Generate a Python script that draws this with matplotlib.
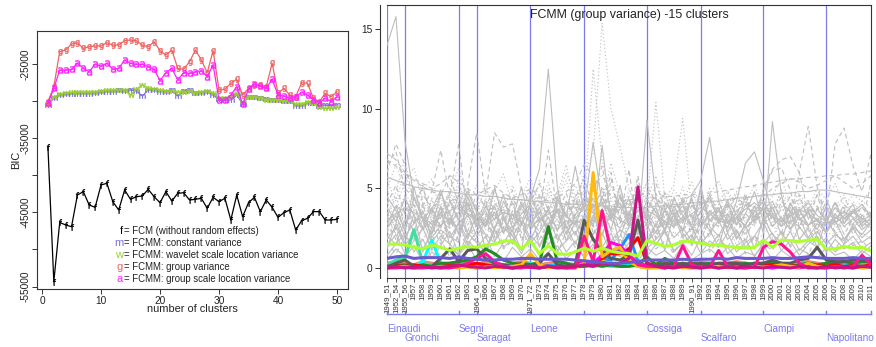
##################### plot.py #####################
# BIC by number of clusters (left) and FCMM group variance, 15 clusters (right)
import matplotlib
matplotlib.use("Agg")
import matplotlib.pyplot as plt
import matplotlib.transforms as mtransforms

plt.rcParams['font.family'] = ['Liberation Sans', 'DejaVu Sans']

# DATA #############################################################
n_clusters = list(range(1, 51))

bic_f = [-36150, -54340, -46350, -46700, -46930, -42660, -42210, -44010, -44320, -41310,
         -41080, -43560, -44680, -41980, -43240, -42890, -42790, -41890, -42890, -43690,
         -42210, -43470, -42430, -42350, -43330, -43240, -43100, -44450, -42970, -43560,
         -43100, -46030, -42660, -45580, -43690, -42970, -44900, -43330, -44320, -45670,
         -45040, -44680, -47380, -46120, -45800, -44900, -44900, -46030, -46030, -45940]
bic_m = [-30530, -29580, -29180, -29110, -29040, -28980, -28980, -28980, -28910, -28840,
         -28710, -28710, -28570, -28640, -28500, -28640, -29310, -28500, -28500, -28710,
         -28710, -28500, -29310, -28640, -28500, -28950, -28870, -28730, -29180, -29760,
         -29850, -29850, -29180, -30390, -29410, -29410, -29620, -29760, -29850, -29850,
         -29950, -29950, -30660, -30660, -30220, -30300, -30660, -30530, -30660, -30530]
bic_w = [-30390, -29450, -29040, -28910, -28840, -28770, -28770, -28770, -28710, -28640,
         -28500, -28500, -28440, -28440, -29180, -28370, -27830, -28240, -28370, -28500,
         -28640, -28640, -28770, -28770, -28640, -28870, -28730, -28640, -28870, -29620,
         -29540, -29410, -28950, -30220, -29410, -29410, -29620, -29850, -29850, -29850,
         -29950, -29950, -30390, -30390, -30080, -30220, -30760, -30970, -30970, -30840]
bic_g = [-30080, -28060, -23340, -23110, -22300, -22130, -22890, -22670, -22570, -22570,
         -22130, -22440, -22440, -21860, -21760, -21860, -22440, -22670, -22000, -23200,
         -23790, -23110, -25580, -25720, -24690, -23110, -24460, -26170, -23200, -28500,
         -28410, -27600, -27060, -29180, -28280, -27830, -27830, -28060, -24900, -28950,
         -28280, -29180, -29400, -27520, -27600, -29630, -30080, -28950, -29400, -28730]
bic_a = [-30300, -28280, -25810, -25810, -25720, -24910, -25580, -26040, -25040, -25270,
         -24910, -25720, -25580, -24460, -24910, -25040, -25040, -25360, -25720, -27250,
         -26170, -25580, -27160, -26170, -26250, -26040, -25900, -26710, -25130, -29850,
         -29850, -29180, -28060, -30390, -28410, -27700, -27970, -28280, -27060, -29180,
         -29310, -29620, -29400, -28820, -29180, -29850, -30200, -29620, -30080, -29400]

bic_keys = ['f', 'm', 'w', 'g', 'a']
bic_colors = ['#000000', '#7B6FE0', '#9ACD32', '#EE6363', '#FF22FF']
bic_text = ['= FCM (without random effects)',
            '= FCMM: constant variance',
            '= FCMM: wavelet scale location variance',
            '= FCMM: group variance',
            '= FCMM: group scale location variance']

years = ['1949_51', '1952_54', '1955_56', '1957', '1958', '1959', '1960', '1961', '1962', '1963',
         '1964_65', '1966', '1967', '1968', '1969', '1970', '1971_72', '1973', '1974', '1975',
         '1976', '1977', '1978', '1979', '1980', '1981', '1982', '1983', '1984', '1985',
         '1986', '1987', '1988', '1989', '1990_91', '1992', '1993', '1994', '1995', '1996',
         '1997', '1998', '1999', '2000', '2001', '2002', '2003', '2004', '2005', '2006',
         '2007', '2008', '2009', '2010', '2011']
presidents = ['Einaudi', 'Gronchi', 'Segni', 'Saragat', 'Leone',
              'Pertini', 'Cossiga', 'Scalfaro', 'Ciampi', 'Napolitano']
term_start = ['1949_51', '1955_56', '1962', '1964_65', '1971_72',
              '1978', '1985', '1992', '1999', '2006']

# gray background series (all variables)
gray_01 = [14.0, 15.8, 8.0, 4.5, 3.0, 3.8, 2.5, 4.2, 3.0, 4.8, 3.5, 2.6, 3.9, 2.2, 3.4, 2.8, 4.6, 3.1, 2.7, 3.6, 2.1, 3.3, 4.4, 3.7, 2.6, 3.2, 4.1, 2.8, 3.6, 3.3, 2.2, 3.7, 2.7, 3.2, 4.3, 2.6, 3.3, 3.8, 2.3, 3.1, 2.7, 3.6, 4.2, 3.2, 2.6, 3.3, 3.7, 2.7, 3.1, 2.3, 3.2, 2.8, 3.6, 3.1, 2.7]
gray_02 = [2.0, 1.5, 3.0, 2.4, 1.2, 2.1, 3.5, 2.0, 1.6, 4.5, 3.0, 2.1, 1.6, 3.1, 2.0, 1.1, 4.4, 6.2, 12.5, 5.1, 2.5, 3.0, 2.0, 4.0, 3.0, 1.5, 2.0, 3.4, 2.1, 2.8, 1.4, 2.4, 3.3, 1.9, 2.5, 1.5, 2.2, 3.0, 1.8, 2.4, 1.3, 2.0, 2.9, 1.6, 2.2, 1.4, 2.6, 1.8, 2.3, 1.5, 2.1, 1.7, 2.5, 1.6, 2.0]
gray_03 = [5.0, 6.5, 4.8, 3.6, 5.2, 2.8, 4.4, 3.3, 5.6, 3.0, 4.1, 5.3, 3.2, 4.7, 2.9, 3.8, 5.0, 3.4, 4.6, 2.7, 3.9, 5.2, 4.0, 12.5, 6.8, 4.3, 3.1, 4.9, 3.6, 5.4, 2.8, 4.2, 3.5, 5.1, 3.0, 4.4, 2.9, 3.7, 4.8, 3.2, 4.0, 2.7, 4.5, 3.3, 3.9, 2.8, 4.1, 3.4, 4.6, 3.0, 3.8, 2.9, 4.2, 3.1, 3.6]
gray_04 = [3.2, 4.8, 6.9, 4.0, 2.6, 4.3, 3.1, 5.0, 2.8, 4.5, 3.6, 2.4, 4.9, 3.3, 2.7, 4.2, 3.0, 5.5, 3.4, 4.6, 6.5, 3.8, 5.9, 7.2, 15.4, 10.0, 7.6, 5.0, 3.6, 4.4, 3.1, 4.8, 2.9, 4.0, 3.4, 2.6, 4.2, 3.0, 3.8, 2.7, 4.5, 3.3, 2.8, 4.1, 3.2, 3.6, 2.5, 4.3, 3.0, 3.7, 2.6, 3.9, 3.1, 2.8, 3.5]
gray_05 = [2.5, 3.3, 2.0, 2.8, 3.6, 1.9, 2.7, 3.1, 2.2, 3.4, 2.0, 2.9, 3.5, 2.3, 2.6, 3.2, 1.8, 2.9, 3.7, 2.4, 3.0, 2.1, 3.3, 2.6, 7.7, 3.0, 2.5, 3.5, 2.4, 9.3, 4.4, 2.7, 3.3, 2.3, 4.6, 5.5, 8.2, 4.2, 2.8, 3.4, 2.5, 3.1, 3.8, 2.6, 3.2, 2.4, 3.6, 2.7, 3.0, 2.3, 3.4, 2.6, 3.1, 2.4, 2.9]
gray_06 = [4.2, 3.0, 4.6, 2.7, 3.9, 3.3, 4.8, 2.9, 4.1, 3.5, 2.6, 4.4, 3.1, 3.8, 2.5, 4.3, 3.2, 4.7, 2.8, 3.6, 4.0, 2.7, 4.9, 3.4, 4.1, 3.0, 4.6, 3.3, 5.5, 3.9, 10.4, 4.3, 5.2, 9.4, 3.6, 4.5, 2.9, 4.0, 3.3, 4.7, 2.8, 3.7, 4.2, 3.1, 3.9, 2.7, 4.4, 3.2, 3.8, 2.9, 4.1, 3.0, 3.6, 2.8, 3.4]
gray_07 = [1.8, 2.6, 1.4, 2.2, 3.0, 1.6, 2.4, 1.9, 2.8, 1.5, 2.3, 3.1, 1.7, 2.5, 2.0, 2.9, 1.6, 2.2, 3.2, 1.8, 2.6, 1.5, 2.7, 2.1, 3.0, 1.7, 2.4, 2.0, 2.8, 1.6, 2.3, 3.0, 1.9, 2.5, 1.7, 5.2, 2.6, 2.0, 3.1, 1.8, 2.7, 3.9, 2.2, 9.2, 4.6, 2.4, 3.2, 1.9, 2.8, 2.2, 3.0, 1.8, 2.6, 2.1, 2.9]
gray_08 = [3.5, 2.4, 3.9, 2.8, 3.3, 2.1, 3.7, 2.6, 3.1, 2.3, 3.8, 2.7, 3.4, 2.2, 3.6, 2.9, 2.4, 3.2, 2.6, 3.9, 2.3, 3.0, 2.7, 3.5, 2.2, 3.3, 2.8, 3.6, 2.4, 3.1, 2.6, 3.7, 2.5, 3.2, 2.8, 3.5, 2.3, 3.4, 2.9, 3.6, 2.5, 3.0, 5.0, 6.2, 6.8, 7.0, 6.0, 8.9, 5.1, 3.2, 7.8, 8.8, 6.4, 4.8, 7.2]
gray_09 = [6.0, 7.8, 6.5, 4.2, 5.0, 3.4, 4.6, 5.8, 4.0, 5.2, 8.5, 4.6, 8.5, 7.6, 7.8, 5.0, 4.1, 5.3, 3.6, 4.8, 3.2, 4.4, 5.6, 3.8, 4.9, 3.3, 4.5, 3.0, 4.2, 3.6, 4.7, 3.1, 4.3, 3.5, 4.0, 2.9, 4.6, 3.4, 3.9, 2.8, 4.4, 3.2, 4.1, 3.0, 3.7, 4.5, 3.3, 3.8, 2.9, 4.2, 3.1, 3.6, 2.7, 4.0, 3.2]
gray_10 = [6.5, 7.3, 5.0, 4.4, 3.9, 4.8, 7.4, 4.5, 7.8, 3.2, 4.6, 3.8, 5.1, 2.9, 4.3, 3.6, 4.9, 3.1, 7.4, 3.5, 4.7, 2.8, 4.2, 3.7, 5.0, 3.0, 4.4, 3.3, 4.8, 2.7, 4.1, 3.6, 4.5, 3.0, 3.9, 3.4, 4.6, 2.8, 4.0, 3.5, 4.3, 2.9, 3.8, 3.2, 4.5, 3.0, 6.0, 3.4, 3.9, 2.8, 4.2, 3.1, 3.7, 3.3, 3.5]
gray_11 = [5.7, 5.5, 5.3, 5.1, 5.0, 4.9, 4.8, 4.8, 4.7, 4.6, 4.6, 4.5, 4.5, 4.4, 4.3, 4.3, 4.2, 4.2, 4.1, 4.1, 4.0, 4.0, 4.0, 3.9, 3.9, 3.9, 3.8, 3.8, 3.8, 3.8, 3.9, 3.9, 4.0, 4.0, 4.1, 4.1, 4.2, 4.2, 4.3, 4.4, 4.4, 4.5, 4.6, 4.6, 4.7, 4.7, 4.8, 4.8, 4.9, 4.9, 4.8, 4.7, 4.6, 4.5, 4.4]
gray_12 = [1.2, 2.8, 1.6, 3.4, 1.0, 2.5, 3.8, 1.4, 2.9, 1.8, 3.5, 1.1, 2.6, 3.2, 1.5, 2.7, 3.9, 1.3, 2.4, 3.6, 1.7, 2.9, 1.2, 3.3, 2.0, 3.7, 1.4, 2.6, 3.1, 1.6, 2.8, 1.1, 3.5, 2.2, 1.5, 3.0, 2.4, 1.3, 3.4, 1.9, 2.7, 1.2, 3.2, 2.1, 1.6, 3.6, 1.8, 2.5, 1.3, 3.0, 2.2, 1.5, 2.8, 1.9, 2.4]
gray_13 = [2.9, 1.8, 3.6, 2.2, 4.1, 1.6, 3.0, 2.5, 3.8, 1.9, 2.7, 4.3, 2.0, 3.3, 1.5, 3.9, 2.4, 3.1, 1.7, 4.0, 2.6, 3.4, 5.2, 2.1, 3.7, 6.0, 2.8, 4.5, 2.3, 3.2, 1.8, 3.6, 2.5, 4.2, 1.9, 3.1, 2.7, 3.8, 2.2, 3.3, 1.6, 3.5, 2.4, 4.0, 2.0, 3.0, 2.6, 3.7, 1.8, 3.2, 2.3, 3.6, 2.1, 2.9, 2.5]
gray_14 = [3.7, 2.5, 1.9, 3.2, 2.6, 4.4, 1.8, 3.5, 2.3, 2.9, 1.6, 3.3, 4.0, 2.1, 3.6, 1.9, 2.8, 4.2, 2.4, 3.1, 1.7, 3.8, 2.5, 3.0, 4.6, 2.2, 3.4, 1.8, 2.9, 3.7, 2.1, 3.3, 4.1, 2.4, 3.0, 1.9, 3.6, 2.6, 3.2, 4.0, 2.2, 2.8, 3.5, 1.9, 3.1, 2.5, 3.9, 2.3, 2.9, 3.4, 2.0, 3.3, 2.6, 3.0, 2.4]
gray_15 = [0.8, 1.5, 2.2, 1.0, 1.8, 0.6, 1.4, 2.3, 0.9, 1.7, 1.2, 2.0, 0.7, 1.6, 2.4, 1.1, 1.9, 0.8, 1.5, 2.1, 1.0, 1.7, 0.6, 1.3, 2.2, 0.9, 1.8, 1.2, 2.0, 0.7, 1.5, 2.3, 1.0, 1.6, 0.8, 1.9, 1.3, 2.1, 0.9, 1.4, 1.8, 0.7, 1.6, 2.2, 1.1, 1.7, 0.8, 1.5, 2.0, 1.0, 1.8, 1.2, 1.6, 0.9, 1.4]
gray_16 = [1.6, 0.9, 2.0, 1.3, 2.6, 1.1, 1.8, 0.7, 2.2, 1.4, 1.9, 0.8, 2.4, 1.2, 1.7, 2.8, 1.0, 2.1, 1.5, 0.9, 2.3, 1.3, 1.8, 2.7, 1.1, 1.6, 2.2, 0.8, 1.9, 2.5, 1.2, 1.7, 0.9, 2.1, 1.4, 2.6, 1.0, 1.8, 1.3, 2.3, 0.9, 2.0, 1.5, 1.1, 2.4, 1.3, 1.9, 0.8, 2.2, 1.6, 1.2, 2.0, 1.4, 1.7, 1.1]
gray_17 = [4.5, 3.6, 2.4, 5.1, 3.0, 2.2, 3.9, 2.7, 4.6, 2.0, 3.3, 2.6, 5.0, 3.1, 2.3, 4.1, 2.8, 3.5, 2.1, 4.3, 3.2, 6.4, 3.6, 7.9, 4.0, 3.0, 5.2, 2.6, 4.6, 3.1, 3.8, 2.4, 4.4, 3.3, 2.7, 4.9, 3.0, 3.6, 2.5, 4.2, 6.6, 7.3, 5.5, 3.4, 2.9, 4.0, 3.2, 2.6, 3.7, 3.0, 4.1, 2.8, 3.5, 3.0, 3.3]
gray_18 = [2.2, 4.0, 3.1, 1.8, 3.5, 2.7, 1.5, 3.2, 2.4, 4.2, 2.9, 1.9, 3.6, 2.5, 4.4, 1.7, 3.0, 2.3, 3.9, 1.6, 2.8, 3.4, 2.0, 4.5, 2.6, 5.6, 3.1, 6.2, 2.2, 3.5, 1.9, 2.9, 3.7, 2.3, 3.3, 1.8, 3.0, 2.6, 4.1, 2.1, 3.4, 2.9, 4.8, 6.1, 6.3, 4.9, 2.6, 3.6, 2.2, 3.1, 2.7, 3.8, 2.4, 3.3, 2.5]
gray_19 = [1.9, 3.0, 1.3, 2.5, 1.7, 3.2, 2.1, 1.5, 2.8, 1.2, 2.4, 1.8, 3.1, 1.4, 2.6, 2.0, 1.6, 2.9, 1.3, 2.2, 1.9, 2.7, 1.5, 3.3, 1.8, 2.5, 1.4, 2.9, 2.0, 1.6, 2.6, 1.3, 2.3, 1.8, 2.7, 1.5, 2.2, 1.9, 2.8, 1.4, 2.5, 1.7, 2.1, 2.9, 1.5, 2.4, 1.8, 2.6, 1.6, 2.3, 1.9, 2.7, 1.5, 2.2, 1.8]
gray_20 = [3.0, 3.4, 3.8, 3.5, 3.1, 2.8, 3.2, 3.6, 3.9, 3.4, 3.0, 2.7, 3.1, 3.5, 3.3, 2.9, 2.6, 3.0, 3.4, 3.7, 3.2, 2.8, 3.1, 3.6, 4.0, 3.5, 3.0, 2.7, 3.2, 3.6, 3.3, 2.9, 2.6, 3.0, 3.4, 3.8, 3.4, 3.0, 2.8, 3.2, 3.7, 4.1, 3.6, 3.2, 2.9, 3.3, 3.7, 3.4, 3.0, 2.8, 3.1, 3.5, 3.2, 2.9, 3.0]
gray_21 = [7.2, 6.8, 6.0, 5.6, 5.3, 5.0, 5.3, 5.8, 5.4, 5.0, 4.6, 4.9, 5.2, 4.7, 4.4, 4.6, 5.0, 4.5, 4.2, 4.4, 4.8, 5.3, 6.5, 5.8, 5.0, 4.6, 4.3, 4.0, 4.4, 4.8, 4.3, 4.0, 3.8, 4.2, 4.6, 4.1, 3.9, 3.7, 4.1, 4.4, 4.0, 3.8, 4.5, 5.0, 5.3, 5.6, 5.4, 5.0, 5.2, 5.5, 5.8, 5.4, 5.0, 5.3, 5.8]
gray_22 = [4.9, 3.8, 5.4, 6.3, 4.1, 3.5, 4.6, 3.9, 5.1, 4.4, 3.7, 4.9, 4.2, 3.6, 5.2, 3.9, 4.5, 3.4, 4.8, 4.0, 5.5, 3.7, 6.0, 4.8, 5.9, 4.3, 5.0, 3.8, 4.6, 5.3, 4.0, 4.8, 3.6, 4.4, 3.9, 4.7, 3.5, 4.2, 4.9, 3.8, 4.5, 3.6, 4.1, 3.4, 4.8, 3.9, 4.3, 3.7, 4.6, 3.5, 4.0, 4.4, 3.6, 4.2, 3.8]
gray_23 = [0.5, 1.2, 0.7, 1.4, 0.4, 1.0, 0.6, 1.3, 0.8, 1.5, 0.5, 1.1, 0.9, 0.4, 1.3, 0.7, 1.2, 0.5, 1.0, 1.4, 0.6, 1.1, 0.8, 1.5, 0.5, 1.2, 0.7, 1.0, 0.4, 1.3, 0.8, 1.1, 0.6, 1.4, 0.5, 0.9, 1.2, 0.7, 1.3, 0.6, 1.0, 0.8, 1.4, 0.5, 1.1, 0.7, 1.2, 0.9, 0.6, 1.3, 0.8, 1.0, 0.5, 1.1, 0.7]
gray_24 = [3.3, 2.1, 2.7, 4.0, 2.4, 3.6, 2.0, 3.1, 1.7, 3.8, 2.5, 3.4, 1.9, 2.9, 4.1, 2.2, 3.5, 1.8, 2.8, 3.3, 2.6, 4.4, 3.0, 5.6, 2.7, 3.9, 2.3, 3.2, 5.8, 2.5, 3.6, 2.0, 3.0, 4.3, 2.4, 3.1, 1.9, 3.7, 2.6, 3.3, 2.0, 3.6, 2.8, 3.2, 2.2, 3.8, 2.5, 3.0, 4.6, 2.6, 3.4, 2.1, 3.1, 2.7, 5.4]
gray_25 = [5.5, 4.2, 6.1, 3.8, 4.9, 5.6, 3.5, 4.7, 6.3, 4.0, 5.2, 3.6, 4.8, 5.9, 3.9, 4.4, 5.7, 3.7, 5.0, 4.3, 6.0, 4.5, 3.8, 5.3, 4.1, 6.6, 4.6, 3.9, 5.1, 4.4, 5.8, 3.6, 4.9, 4.2, 5.4, 3.8, 4.6, 5.5, 3.9, 4.8, 4.1, 5.2, 3.7, 4.5, 5.6, 4.0, 4.7, 3.8, 5.0, 4.3, 5.3, 3.9, 4.6, 4.2, 4.9]
gray_26 = [2.7, 3.9, 2.3, 4.4, 3.1, 2.5, 4.7, 3.4, 2.1, 4.0, 2.8, 3.6, 2.4, 4.2, 3.0, 5.1, 2.6, 3.8, 2.2, 4.5, 3.3, 2.7, 4.1, 2.9, 3.7, 2.4, 4.6, 3.2, 2.6, 4.3, 3.5, 2.3, 3.9, 2.8, 4.4, 2.5, 3.6, 3.1, 4.2, 2.7, 3.4, 4.8, 2.9, 3.8, 2.6, 4.1, 3.0, 3.5, 2.4, 3.9, 2.8, 3.3, 4.0, 2.6, 3.2]
gray_27 = [4.0, 5.2, 3.4, 2.9, 4.6, 3.8, 2.6, 4.3, 3.1, 5.0, 3.6, 2.8, 4.1, 3.3, 4.9, 2.7, 3.9, 4.5, 3.0, 3.7, 2.5, 4.2, 3.4, 4.8, 6.4, 3.5, 4.0, 2.9, 4.4, 3.2, 5.3, 3.8, 2.7, 4.5, 3.0, 4.1, 3.6, 2.8, 4.3, 3.3, 4.7, 3.0, 3.9, 2.6, 4.2, 3.5, 4.6, 3.1, 3.7, 4.4, 2.9, 4.0, 3.4, 3.8, 3.1]
gray_28 = [3.8, 2.9, 4.4, 3.3, 2.4, 3.7, 4.9, 2.8, 3.5, 4.1, 2.6, 3.9, 3.0, 4.6, 2.5, 3.4, 4.0, 2.9, 3.6, 2.3, 4.2, 3.1, 3.8, 2.7, 4.5, 3.2, 3.7, 4.3, 2.8, 3.5, 2.6, 4.1, 3.3, 3.9, 2.5, 3.6, 4.4, 3.0, 3.4, 2.7, 4.0, 3.2, 3.7, 4.2, 3.0, 2.8, 3.6, 4.1, 3.3, 2.9, 3.8, 3.1, 3.5, 4.0, 3.2]
gray_29 = [2.4, 3.5, 4.3, 2.8, 3.9, 2.2, 3.3, 4.6, 2.6, 3.7, 3.0, 4.1, 2.5, 3.4, 2.1, 3.8, 2.7, 4.4, 3.2, 2.6, 3.6, 2.0, 3.1, 4.0, 2.9, 3.5, 4.7, 2.4, 3.3, 2.8, 3.9, 2.3, 3.6, 3.0, 2.5, 4.2, 2.9, 3.4, 2.2, 3.7, 3.1, 2.6, 3.9, 3.3, 2.7, 3.5, 2.4, 3.8, 3.0, 2.6, 3.4, 2.9, 3.7, 2.5, 3.1]
gray_30 = [1.4, 2.1, 0.9, 1.7, 2.5, 1.2, 2.0, 1.5, 0.8, 2.2, 1.6, 1.0, 2.4, 1.3, 1.8, 0.9, 2.1, 1.4, 2.6, 1.1, 1.7, 2.3, 1.0, 1.9, 1.3, 2.2, 0.8, 1.6, 2.0, 1.2, 1.8, 2.4, 1.1, 1.5, 2.1, 0.9, 1.7, 1.3, 2.2, 1.0, 1.6, 2.0, 1.2, 1.8, 1.4, 2.3, 1.1, 1.7, 1.3, 1.9, 1.0, 1.5, 2.0, 1.2, 1.6]
gray_31 = [6.8, 6.4, 5.9, 5.5, 5.1, 4.8, 4.6, 4.4, 4.2, 4.0, 3.9, 3.8, 3.7, 3.6, 3.6, 3.5, 3.5, 3.5, 3.6, 3.6, 3.7, 3.8, 3.9, 4.0, 4.1, 4.2, 4.2, 4.3, 4.3, 4.4, 4.4, 4.5, 4.5, 4.6, 4.6, 4.7, 4.7, 4.8, 4.9, 5.0, 5.1, 5.2, 5.3, 5.4, 5.5, 5.6, 5.6, 5.7, 5.7, 5.8, 5.8, 5.9, 5.9, 6.0, 6.1]
gray_32 = [3.1, 4.5, 2.6, 3.7, 5.3, 2.9, 4.1, 3.4, 4.8, 2.7, 3.9, 3.2, 5.0, 3.6, 2.8, 4.3, 3.1, 4.0, 5.4, 2.9, 3.5, 4.6, 2.6, 4.2, 3.3, 5.1, 3.8, 2.7, 4.4, 3.0, 3.9, 4.7, 2.8, 3.6, 4.2, 3.1, 5.0, 2.9, 3.7, 4.5, 3.2, 2.8, 4.0, 3.5, 4.9, 3.0, 3.6, 4.3, 2.7, 3.9, 3.3, 4.6, 3.0, 3.8, 3.4]
gray_series = [gray_01, gray_02, gray_03, gray_04, gray_05, gray_06, gray_07, gray_08,
               gray_09, gray_10, gray_11, gray_12, gray_13, gray_14, gray_15, gray_16,
               gray_17, gray_18, gray_19, gray_20, gray_21, gray_22, gray_23, gray_24,
               gray_25, gray_26, gray_27, gray_28, gray_29, gray_30, gray_31, gray_32]
gray_styles = ['-', '-', ':', ':', '-', ':', '-', '--', '--', '--', '-', '-',
               '--', ':', '-', '--', '-', '--', ':', '-', '--', ':', '-', '--',
               ':', '-', '--', '-', ':', '-', '--', ':']

# the 15 cluster centres
cl_dimgray = [0.05, 0.3, 0.5, 0.1, 0.05, 0.1, 0.6, 1.2, 0.4, 1.1, 1.2, 0.6, 0.3, 0.2, 0.1, 0.3, 0.2, 0.3, 0.9, 0.2, 0.1, 0.2, 3.0, 1.8, 1.0, 0.6, 0.5, 0.8, 3.0, 0.3, 0.1, 0.3, 0.2, 0.3, 0.2, 0.3, 0.2, 0.3, 0.3, 0.3, 0.2, 0.3, 0.3, 0.5, 0.3, 0.3, 0.5, 0.6, 1.3, 0.5, 0.4, 0.4, 0.5, 0.5, 0.4]
cl_deeppink = [0.0, 0.0, 0.05, 0.0, 0.0, 0.05, 0.0, 0.0, 0.1, 0.3, 0.6, 0.9, 0.4, 0.1, 0.0, 0.0, 0.1, 0.0, 0.1, 0.05, 0.0, 0.0, 2.0, 0.4, 3.6, 1.0, 1.0, 0.8, 0.2, 0.1, 0.1, 0.0, 0.1, 1.4, 0.2, 0.0, 0.05, 1.1, 0.1, 0.0, 0.0, 0.05, 1.3, 1.65, 1.5, 1.0, 0.3, 0.0, 0.0, 0.0, 0.1, 0.0, 0.1, 0.8, 0.2]
cl_violetred = [0.0, 0.1, 0.0, 0.05, 0.1, 0.0, 0.05, 0.1, 0.2, 0.1, 0.05, 0.0, 0.1, 0.05, 0.0, 0.1, 0.05, 0.0, 0.1, 0.0, 0.05, 0.1, 0.2, 0.1, 0.3, 0.2, 0.3, 0.6, 5.1, 0.3, 0.1, 0.05, 0.0, 0.1, 0.05, 0.0, 0.1, 0.0, 0.05, 0.0, 0.1, 0.05, 0.0, 0.1, 0.05, 0.0, 0.1, 0.05, 0.0, 0.1, 0.0, 0.05, 0.0, 0.1, 0.05]
cl_orange = [0.0, 0.05, 0.1, 0.0, 0.05, 0.0, 0.1, 0.05, 0.0, 0.1, 0.0, 0.05, 0.1, 0.0, 0.1, 0.2, 0.9, 0.2, 0.05, 0.0, 0.0, 0.05, 0.3, 6.0, 0.7, 1.1, 1.3, 0.4, 0.1, 0.0, 0.0, 0.05, 0.0, 0.05, 0.0, 0.0, 0.05, 0.1, 0.0, 0.05, 0.0, 0.1, 0.05, 0.1, 0.2, 0.1, 0.05, 0.3, 0.1, 0.0, 0.05, 0.0, 0.05, 0.0, 0.05]
cl_red = [0.1, 0.15, 0.1, 0.2, 0.1, 0.05, 0.1, 0.15, 0.1, 0.2, 0.3, 0.2, 0.1, 0.15, 0.1, 0.2, 0.1, 0.15, 0.1, 0.05, 0.1, 0.2, 0.4, 0.3, 0.6, 0.9, 0.9, 1.2, 1.9, 0.3, 0.1, 0.15, 0.1, 0.2, 0.1, 0.15, 0.1, 0.2, 0.1, 0.15, 0.1, 0.1, 0.15, 0.2, 0.1, 0.15, 0.1, 0.2, 0.15, 0.1, 0.2, 0.1, 0.15, 0.1, 0.2]
cl_green = [0.1, 0.15, 0.2, 0.1, 0.2, 0.1, 0.3, 0.3, 0.4, 0.5, 0.7, 1.2, 0.9, 0.5, 0.3, 0.2, 0.2, 0.3, 2.6, 0.4, 0.3, 0.1, 0.1, 0.2, 0.1, 0.2, 0.1, 0.1, 0.2, 0.7, 0.2, 0.6, 0.3, 0.2, 0.3, 0.2, 0.3, 0.2, 0.1, 0.2, 0.3, 0.2, 0.2, 0.3, 0.2, 0.1, 0.2, 0.3, 0.2, 0.3, 0.3, 0.4, 0.3, 0.4, 0.4]
cl_mint = [0.2, 0.5, 0.6, 2.4, 0.3, 0.2, 0.3, 0.2, 0.3, 0.2, 0.1, 0.2, 0.3, 0.2, 0.1, 0.2, 0.3, 0.2, 0.1, 0.2, 0.3, 0.2, 0.3, 0.2, 0.3, 0.2, 0.1, 0.2, 0.3, 0.2, 0.1, 0.2, 0.2, 0.3, 0.2, 0.1, 0.2, 0.3, 0.2, 0.1, 0.2, 0.3, 0.2, 0.2, 0.1, 0.2, 0.3, 0.2, 0.1, 0.2, 0.2, 0.3, 0.2, 0.1, 0.2]
cl_cyan = [0.1, 0.2, 0.1, 0.1, 0.4, 1.75, 0.3, 0.1, 0.2, 0.1, 0.1, 0.2, 0.1, 0.1, 0.2, 0.1, 0.2, 0.1, 0.1, 0.2, 0.1, 0.1, 0.2, 0.1, 0.2, 0.1, 0.1, 0.2, 0.1, 0.1, 0.2, 0.1, 0.1, 0.2, 0.1, 0.1, 0.2, 0.1, 0.1, 0.2, 0.1, 0.1, 0.2, 0.1, 0.1, 0.2, 0.1, 0.1, 0.2, 0.1, 0.1, 0.2, 0.1, 0.1, 0.2]
cl_dodger = [0.1, 0.05, 0.1, 0.15, 0.1, 0.05, 0.1, 0.1, 0.15, 0.1, 0.05, 0.1, 0.15, 0.1, 0.05, 0.1, 0.1, 0.05, 0.15, 0.1, 0.05, 0.1, 0.15, 0.3, 0.6, 0.5, 1.2, 2.1, 0.4, 0.1, 0.05, 0.1, 0.15, 0.1, 0.05, 0.1, 0.1, 0.15, 0.1, 0.05, 0.1, 0.1, 0.15, 0.1, 0.05, 0.1, 0.1, 0.15, 0.1, 0.05, 0.1, 0.1, 0.15, 0.1, 0.05]
cl_magenta = [0.05, 0.1, 0.05, 0.0, 0.1, 0.05, 0.0, 0.1, 0.05, 0.1, 0.0, 0.05, 0.1, 0.05, 0.0, 0.1, 0.05, 0.0, 0.1, 0.05, 0.0, 0.1, 0.4, 0.3, 0.8, 1.6, 1.4, 0.8, 0.3, 0.1, 0.05, 0.0, 0.1, 0.05, 0.0, 0.1, 0.05, 0.0, 0.1, 0.05, 0.0, 0.1, 0.05, 0.0, 0.1, 0.05, 0.0, 0.1, 0.05, 0.0, 0.1, 0.05, 0.0, 0.1, 0.05]
cl_salmon = [0.3, 0.4, 0.3, 0.2, 0.4, 0.3, 0.2, 0.3, 0.4, 0.3, 0.2, 0.4, 0.3, 0.2, 0.3, 0.4, 0.3, 0.2, 0.3, 0.4, 0.3, 0.2, 0.3, 0.4, 0.3, 0.2, 0.3, 0.4, 0.3, 0.2, 0.3, 0.4, 0.3, 0.2, 0.3, 0.4, 0.3, 0.2, 0.3, 0.4, 0.3, 0.2, 0.3, 0.4, 0.3, 0.2, 0.3, 0.4, 0.3, 0.2, 0.3, 0.4, 0.3, 0.2, 0.3]
cl_sandy = [0.15, 0.2, 0.1, 0.2, 0.15, 0.1, 0.2, 0.15, 0.1, 0.2, 0.15, 0.1, 0.2, 0.15, 0.1, 0.2, 0.15, 0.1, 0.2, 0.15, 0.1, 0.2, 0.15, 0.1, 0.2, 0.15, 0.1, 0.2, 0.15, 0.1, 0.2, 0.15, 0.1, 0.2, 0.15, 0.1, 0.2, 0.15, 0.1, 0.2, 0.15, 0.1, 0.2, 0.15, 0.1, 0.2, 0.15, 0.1, 0.2, 0.15, 0.1, 0.2, 0.15, 0.1, 0.2]
cl_yellow = [0.0, 0.05, 0.0, 0.1, 0.0, 0.05, 0.0, 0.1, 0.0, 0.05, 0.0, 0.1, 0.0, 0.05, 0.0, 0.1, 0.0, 0.05, 0.0, 0.1, 0.0, 0.05, 0.1, 0.3, 0.5, 0.6, 1.0, 0.4, 0.1, 0.0, 0.05, 0.0, 0.1, 0.0, 0.05, 0.0, 0.1, 0.0, 0.05, 0.0, 0.1, 0.0, 0.05, 0.0, 0.1, 0.0, 0.05, 0.0, 0.1, 0.0, 0.05, 0.0, 0.1, 0.0, 0.05]
cl_lime = [1.5, 1.5, 1.45, 1.3, 1.2, 1.45, 1.3, 1.1, 1.25, 1.35, 1.3, 1.45, 1.5, 1.7, 1.7, 1.2, 1.7, 0.9, 1.4, 0.9, 0.85, 1.0, 1.25, 1.05, 1.25, 1.05, 0.95, 0.9, 0.75, 1.72, 1.55, 1.35, 1.45, 1.7, 1.65, 1.55, 1.45, 1.45, 1.35, 1.3, 1.25, 1.3, 1.76, 1.3, 1.76, 1.72, 1.66, 1.75, 1.8, 1.2, 1.2, 1.35, 1.25, 1.3, 1.05]
cl_slate = [0.6, 0.7, 0.75, 0.6, 0.65, 0.65, 0.65, 0.6, 0.7, 0.6, 0.55, 0.5, 0.5, 0.55, 0.55, 0.6, 0.6, 0.55, 0.55, 0.55, 0.55, 0.5, 0.45, 0.4, 0.35, 0.3, 0.3, 0.35, 0.4, 0.5, 0.5, 0.5, 0.5, 0.55, 0.5, 0.55, 0.55, 0.6, 0.55, 0.65, 0.6, 0.6, 0.6, 0.65, 0.6, 0.6, 0.65, 0.7, 0.65, 0.6, 0.6, 0.6, 0.65, 0.6, 0.6]
cluster_series = [cl_salmon, cl_sandy, cl_yellow, cl_mint, cl_cyan, cl_dodger, cl_green, cl_red,
                  cl_magenta, cl_dimgray, cl_orange, cl_deeppink, cl_violetred, cl_lime, cl_slate]
cluster_colors = ['#FA8072', '#F4A460', '#FFD700', '#40E0A0', '#00FFFF', '#1E90FF', '#228B22', '#FF0000',
                  '#FF00FF', '#5A5A5A', '#FFB90F', '#FF1493', '#C71585', '#ADFF2F', '#6A5ACD']

# FIGURE ###########################################################
fig = plt.figure(figsize=(8.76, 3.47), dpi=100)
W, H = 876.0, 347.0
axis_col = '#333333'
pres_col = '#7B7BEE'

# left panel: BIC
ax1 = fig.add_axes([37 / W, 58 / H, 311 / W, 258 / H])
bic_series = [bic_f, bic_m, bic_w, bic_g, bic_a]
for vals, key, col in zip(bic_series, bic_keys, bic_colors):
    ax1.plot(n_clusters, vals, color=col, lw=0.9, marker=r'$\mathrm{%s}$' % key,
             ms=4.5, mec=col, mfc=col, mew=0.3)
ax1.set_xlim(-0.85, 51.86)
ax1.set_ylim(-55330, -20550)
ax1.set_xticks([0, 10, 20, 30, 40, 50])
ax1.set_yticks([-25000, -30000, -35000, -40000, -45000, -50000, -55000])
ax1.set_yticklabels(['-25000', '', '-35000', '', '-45000', '', '-55000'],
                    rotation=90, va='center')
ax1.tick_params(direction='out', length=3.6, width=0.7, colors=axis_col,
                labelsize=7.3, labelcolor='#222222', pad=1.2)
for sp in ax1.spines.values():
    sp.set_color(axis_col)
    sp.set_linewidth(0.8)
ax1.text(0.5, -0.0775, 'number of clusters', transform=ax1.transAxes,
         ha='center', va='center', fontsize=7.9, color='#222222')
ax1.text(-21 / 311, 0.5, 'BIC', transform=ax1.transAxes, rotation=90,
         ha='center', va='center', fontsize=7.9, color='#222222')

# legend written as text rows
leg_y = [-47510, -49090, -50710, -52320, -53940]
for key, col, txt, yy in zip(bic_keys, bic_colors, bic_text, leg_y):
    ax1.text(13.75, yy, key, color=col, ha='right', va='center', fontsize=8)
    ax1.text(13.9, yy, txt, color='#222222', ha='left', va='center', fontsize=6.9)

# right panel: FCMM with 15 clusters
ax2 = fig.add_axes([387 / W, 69 / H, 484 / W, 273 / H])
xs = list(range(len(years)))
starts = [years.index(y) for y in term_start]
for s in starts:
    ax2.axvline(s, color=pres_col, lw=0.9, zorder=1)
for vals, ls in zip(gray_series, gray_styles):
    if ls == ':':
        ax2.plot(xs, vals, color='#BEBEBE', lw=0.8, ls=(0, (1, 2.2)), zorder=2)
    elif ls == '--':
        ax2.plot(xs, vals, color='#BEBEBE', lw=0.8, ls=(0, (4, 3)), zorder=2)
    else:
        ax2.plot(xs, vals, color='#BEBEBE', lw=0.8, zorder=2)
for vals, col in zip(cluster_series, cluster_colors):
    ax2.plot(xs, vals, color=col, lw=2.2, zorder=3, solid_joinstyle='round')

ax2.set_xlim(0, len(years) - 1)
ax2.set_ylim(-0.63, 16.53)
ax2.set_xticks(xs)
ax2.set_xticklabels(years, rotation=90, fontsize=5.6, color='#222222')
ax2.set_yticks([0, 5, 10, 15])
ax2.set_yticklabels(['0', '5', '10', '15'], rotation=90, va='center')
ax2.tick_params(axis='y', direction='out', length=3.6, width=0.7, colors=axis_col,
                labelsize=7.3, labelcolor='#222222', pad=2)
ax2.tick_params(axis='x', direction='out', length=2.8, width=0.6, colors=axis_col, pad=0.8)
for sp in ax2.spines.values():
    sp.set_color(axis_col)
    sp.set_linewidth(0.8)
ax2.spines['left'].set_position(('outward', 5))
ax2.text(0.5, 0.963, 'FCMM (group variance) -15 clusters', transform=ax2.transAxes,
         ha='center', va='center', fontsize=8.9, color='#222222')

# presidents axis under the years
trans = mtransforms.blended_transform_factory(ax2.transData, ax2.transAxes)
ax2.plot([0, len(years) - 1], [-0.132, -0.132], color=pres_col, lw=1.0,
         transform=trans, clip_on=False)
for s in starts + [len(years) - 1]:
    ax2.plot([s, s], [-0.132, -0.120], color=pres_col, lw=1.0,
             transform=trans, clip_on=False)
for i, (name, s) in enumerate(zip(presidents, starts)):
    yy = -0.1886 if i % 2 == 0 else -0.2198
    ax2.text(s, yy, name, transform=trans, ha='left', va='center',
             fontsize=7.2, color=pres_col)

print("Saving plot.. out.png")
fig.savefig('out.png', dpi=100)
